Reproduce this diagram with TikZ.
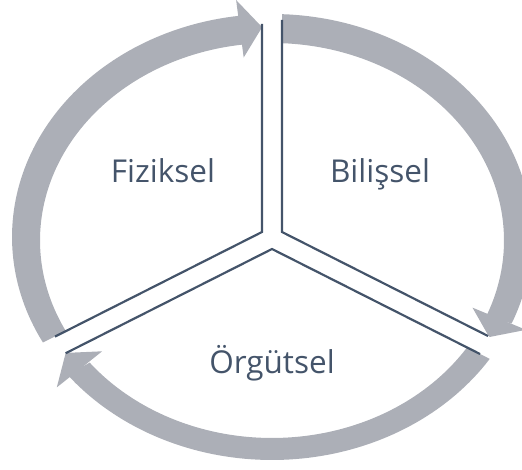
\documentclass[tikz,border=0pt]{standalone}
\usepackage{fontspec}
\setmainfont{Open Sans}
\definecolor{bandgray}{RGB}{172,175,183}
\definecolor{ink}{HTML}{44546A}
\begin{document}
\begin{tikzpicture}[x=1pt,y=-1pt,
  bandfill/.style={fill=bandgray},
  sectorline/.style={draw=ink, line width=2.2pt, line join=miter},
  lbl/.style={text=ink, font=\fontsize{31.5}{37}\selectfont, anchor=base, inner sep=0pt}]
\useasboundingbox (0,0) rectangle (522,470);
\coordinate (ctr) at (272,238);
% Fiziksel segment (lower-left to top)
\begin{scope}
\clip (262,232) -- (-95,412) -- (-100,-100) -- (262,-100) -- cycle;
\fill[bandfill] plot[domain=140:262.8,samples=90] ({272+260*cos(\x)},{237+223*sin(\x)})
  -- plot[domain=262.8:140,samples=90] ({272+232*cos(\x)},{240.5+197.5*sin(\x)}) -- cycle;
\fill[bandfill] ({272+275*cos(262.5)},{238+240*sin(262.5)})
  -- ({272+246*cos(267.7)},{238+211*sin(267.7)})
  -- ({272+217*cos(262.5)},{238+182*sin(262.5)}) -- cycle;
\end{scope}
% Bilissel segment (top to lower-right)
\begin{scope}
\clip (282,232) -- (282,-100) -- (702,-100) -- (702,444) -- cycle;
\fill[bandfill] plot[domain=-100:22.8,samples=90] ({272+260*cos(\x)},{237+223*sin(\x)})
  -- plot[domain=22.8:-100,samples=90] ({272+232*cos(\x)},{240.5+197.5*sin(\x)}) -- cycle;
\fill[bandfill] ({272+275*cos(22.5)},{238+240*sin(22.5)})
  -- ({272+246*cos(28)},{238+211*sin(28)})
  -- ({272+217*cos(22.5)},{238+182*sin(22.5)}) -- cycle;
\end{scope}
% Orgutsel segment (lower-right to lower-left)
\begin{scope}
\clip (272,249) -- (701,465.5) -- (701,700) -- (-157,700) -- (-157,465.5) -- cycle;
\fill[bandfill] plot[domain=15:141.8,samples=90] ({272+260*cos(\x)},{237+223*sin(\x)})
  -- plot[domain=141.8:15,samples=90] ({272+232*cos(\x)},{240.5+197.5*sin(\x)}) -- cycle;
\fill[bandfill] ({272+275*cos(141.5)},{238+240*sin(141.5)})
  -- ({272+246*cos(147)},{238+211*sin(147)})
  -- ({272+217*cos(141.5)},{238+182*sin(141.5)}) -- cycle;
\end{scope}
% sector outlines
\draw[sectorline] (262,24) -- (262,232) -- (55,336.6);
\draw[sectorline] (282,20) -- (282,232) -- (488,336);
\draw[sectorline] (480,354) -- (272,249) -- (65.7,353.2);
% labels
\node[lbl] (fiz) at (163,183) {Fiziksel};
\node[lbl] (bil) at (380,183) {Bilişsel};
\node[lbl] (org) at (272,373) {Örgütsel};
\end{tikzpicture}
\end{document}
